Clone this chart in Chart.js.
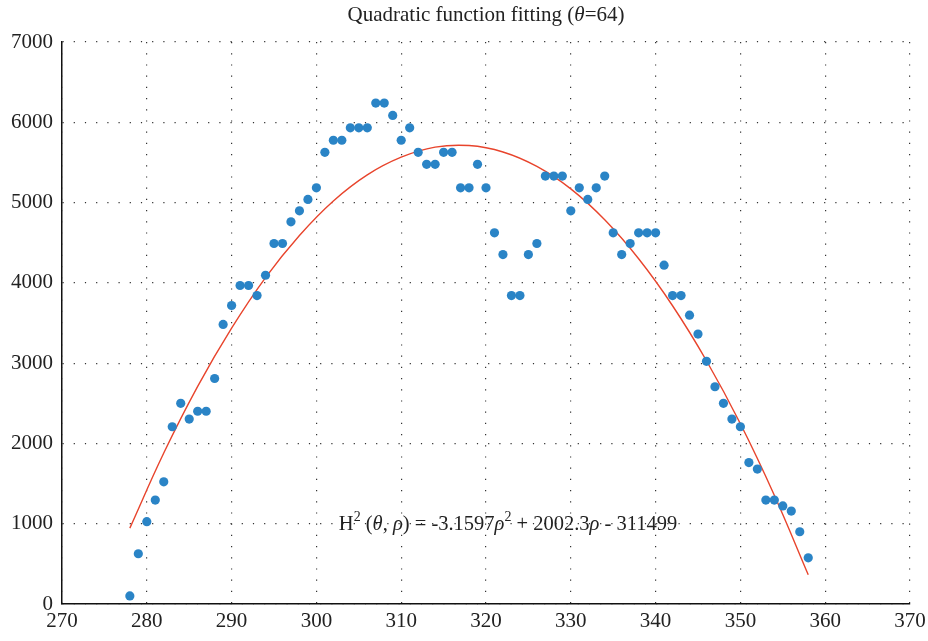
<!DOCTYPE html>
<html>
<head>
<meta charset="utf-8">
<script src="https://cdn.jsdelivr.net/npm/chart.js@4.4.1/dist/chart.umd.min.js"></script>
<style>
  html, body { margin: 0; padding: 0; background: #fff; }
  #wrap { width: 928px; height: 641px; position: relative; }
</style>
</head>
<body>
<div id="wrap"><canvas id="fitChart"></canvas></div>
<script>
// measured points (rho vs H^2)
const rho = [278, 279, 280, 281, 282, 283, 284, 285, 286, 287, 288, 289, 290, 291, 292, 293, 294, 295, 296, 297,
  298, 299, 300, 301, 302, 303, 304, 305, 306, 307, 308, 309, 310, 311, 312, 313, 314, 315, 316, 317,
  318, 319, 320, 321, 322, 323, 324, 325, 326, 327, 328, 329, 330, 331, 332, 333, 334, 335, 336, 337,
  338, 339, 340, 341, 342, 343, 344, 345, 346, 347, 348, 349, 350, 351, 352, 353, 354, 355, 356, 357, 358];
const h2 = [100, 626, 1025, 1295, 1522, 2208, 2500, 2303, 2401, 2401, 2809, 3482, 3718, 3967, 3967, 3842, 4095, 4490, 4490, 4760,
  4897, 5039, 5184, 5626, 5776, 5776, 5931, 5931, 5931, 6239, 6239, 6085, 5776, 5931, 5626, 5476, 5476, 5626, 5626, 5184,
  5184, 5476, 5184, 4623, 4352, 3842, 3842, 4352, 4490, 5330, 5330, 5330, 4897, 5184, 5039, 5184, 5330, 4623, 4352, 4490,
  4623, 4623, 4623, 4220, 3842, 3842, 3598, 3362, 3023, 2706, 2500, 2303, 2208, 1762, 1681, 1295, 1295, 1222, 1158, 900, 575];

// fitted curve
const fitRho = [278, 282, 286, 290, 294, 298, 302, 306, 310, 314, 318, 322, 326, 330, 334, 338, 342, 346, 350, 354, 358];
const fitH2 = [945, 1880, 2710, 3435, 4065, 4590, 5020, 5345, 5565, 5690, 5710, 5630, 5450, 5170, 4785, 4300, 3715, 3030, 2245, 1355, 365];

const xTicks = [270, 280, 290, 300, 310, 320, 330, 340, 350, 360, 370];
const yTicks = [0, 1000, 2000, 3000, 4000, 5000, 6000, 7000];

const serif = "'Liberation Serif', 'DejaVu Serif', serif";

// draws the title and the equation with italics / superscripts
const textPlugin = {
  id: 'texts',
  afterDraw(chart) {
    const ctx = chart.ctx;
    const area = chart.chartArea;
    const put = (parts, cx, y, size) => {
      const supSize = Math.round(size * 0.68);
      let w = 0;
      parts.forEach(p => {
        ctx.font = (p.it ? 'italic ' : '') + (p.sup ? supSize : size) + 'px ' + serif;
        p.w = ctx.measureText(p.t).width;
        w += p.w;
      });
      let x = cx - w / 2;
      ctx.fillStyle = '#222';
      ctx.textBaseline = 'alphabetic';
      ctx.textAlign = 'left';
      parts.forEach(p => {
        ctx.font = (p.it ? 'italic ' : '') + (p.sup ? supSize : size) + 'px ' + serif;
        ctx.fillText(p.t, x, p.sup ? y - size * 0.43 : y);
        x += p.w;
      });
    };
    ctx.save();
    put([{t: 'Quadratic function fitting ('}, {t: 'θ', it: true}, {t: '=64)'}], (area.left + area.right) / 2, 21, 21);
    const sx = chart.scales.x, sy = chart.scales.y;
    put([
      {t: 'H'}, {t: '2', sup: true}, {t: ' ('}, {t: 'θ', it: true}, {t: ', '}, {t: 'ρ', it: true},
      {t: ') = -3.1597'}, {t: 'ρ', it: true}, {t: '2', sup: true}, {t: ' + 2002.3'}, {t: 'ρ', it: true},
      {t: ' - 311499'}
    ], sx.getPixelForValue(322.6), sy.getPixelForValue(920), 20.5);
    ctx.restore();
  }
};

new Chart(document.getElementById('fitChart'), {
  type: 'scatter',
  data: {
    datasets: [
      {
        label: 'data',
        data: rho.map((r, i) => ({x: r, y: h2[i]})),
        backgroundColor: '#2a84c6',
        borderWidth: 0,
        pointRadius: 4.6,
        order: 1
      },
      {
        label: 'fit',
        data: fitRho.map((r, i) => ({x: r, y: fitH2[i]})),
        showLine: true,
        borderColor: '#e8442c',
        borderWidth: 1.4,
        pointRadius: 0,
        tension: 0.4,
        order: 2
      }
    ]
  },
  options: {
    responsive: true,
    maintainAspectRatio: false,
    animation: false,
    layout: { padding: { top: 42, right: 18, left: 0, bottom: 0 } },
    plugins: { legend: { display: false }, title: { display: false }, tooltip: { enabled: false } },
    scales: {
      x: {
        type: 'linear', min: 270, max: 370,
        afterBuildTicks: s => { s.ticks = xTicks.map(v => ({value: v})); },
        afterFit: s => { s.height = 37; s.paddingRight = 0; s.paddingLeft = 0; },
        ticks: { font: { family: serif, size: 21 }, color: '#222', padding: 5, callback: v => String(v) },
        grid: { color: '#333', lineWidth: 1.2, drawTicks: false },
        border: { display: true, color: '#111', width: 1.5, dash: [1.2, 10] }
      },
      y: {
        min: 0, max: 7000,
        afterBuildTicks: s => { s.ticks = yTicks.map(v => ({value: v})); },
        afterFit: s => { s.width = 62; },
        ticks: { font: { family: serif, size: 21 }, color: '#222', padding: 9, callback: v => String(v) },
        grid: { color: '#333', lineWidth: 1.2, drawTicks: false },
        border: { display: true, color: '#111', width: 1.5, dash: [1.2, 10] }
      }
    }
  },
  plugins: [textPlugin]
});
</script>
</body>
</html>
